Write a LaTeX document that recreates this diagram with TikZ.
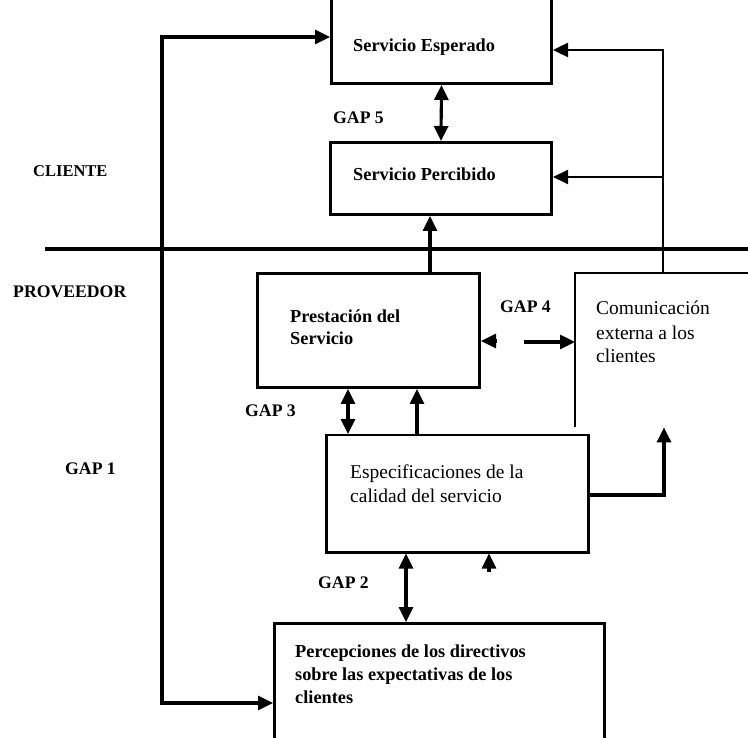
\documentclass[tikz,border=0pt]{standalone}
\usepackage{fontspec}
\setmainfont{Liberation Serif}
\usetikzlibrary{arrows.meta,calc}
\begin{document}
\begin{tikzpicture}[x=1pt,y=-1pt,
  box/.style={draw,line width=3pt,rectangle,inner sep=0pt,anchor=north west},
  openbox/.style={rectangle,inner sep=0pt,anchor=north west},
  conn/.style={line width=3.1pt},
  thin/.style={line width=2pt},
  hd/.style={-{Triangle[length=15pt,width=14pt]}},
  hds/.style={{Triangle[length=15pt,width=14pt]}-{Triangle[length=15pt,width=14pt]}},
  lab/.style={inner sep=0pt,anchor=base west,font=\bfseries\fontsize{17.7}{23}\selectfont},
  btxt/.style={inner sep=0pt,anchor=base west,align=left,font=\bfseries\fontsize{18.3}{23}\selectfont},
  rtxt/.style={inner sep=0pt,anchor=base west,align=left,font=\fontsize{19.5}{24}\selectfont},
]
\useasboundingbox (0,0) rectangle (748,738);
\clip (0,0) rectangle (748,738);
% boxes
\node[box,minimum width=220pt,minimum height=102pt] (esp) at (330,-20) {};
\node[box,minimum width=221pt,minimum height=72pt] (perc) at (329,141) {};
\node[box,minimum width=222pt,minimum height=114pt] (prest) at (256,272) {};
\node[openbox,minimum width=185pt,minimum height=154pt] (com) at (575,273) {};
\draw[thin] (com.south west) -- (com.north west) -- (com.north east);
\node[box,line width=2.5pt,minimum width=262pt,minimum height=117pt] (espec) at (325,434) {};
\node[box,minimum width=330pt,minimum height=140pt] (percep) at (273,622) {};
% texts (anchor = baseline of last line)
\node[btxt] (tesp) at (353,52) {Servicio Esperado};
\node[btxt] (tperc) at (353,181) {Servicio Percibido};
\node[btxt] (tprest) at (290,345) {Prestación del\\Servicio};
\node[rtxt] (tcom) at (596,363) {Comunicación\\externa a los\\clientes};
\node[rtxt] (tespec) at (350,502) {Especificaciones de la\\calidad del servicio};
\node[btxt] (tpercep) at (295,703) {Percepciones de los directivos\\sobre las expectativas de los\\clientes};
% labels
\node[lab,font=\bfseries\fontsize{16.5}{20}\selectfont] (cli) at (33,177) {CLIENTE};
\node[lab] (prov) at (13,298) {PROVEEDOR};
\node[lab] (g1) at (65,475) {GAP 1};
\node[lab] (g2) at (318,588) {GAP 2};
\node[lab] (g3) at (245,417) {GAP 3};
\node[lab] (g4) at (500,313) {GAP 4};
\node[lab] (g5) at (333,124) {GAP 5};
% divider
\coordinate (dl) at (45,249);
\coordinate (dr) at (760,249);
\draw[conn] (dl) -- (dr);
% GAP 1 loop
\coordinate (gA) at (162,37);
\coordinate (gB) at (162,703);
\draw[conn,hds] (esp.west |- gA) -- (gA) -- (gB) -- (percep.west |- gB);
% GAP 5
\draw[conn,hds] (esp.south) -- (perc.north);
% communication feedback
\coordinate (vt) at (663,50);
\coordinate (vm) at (663,177);
\draw[conn,line width=2.4pt,hd] (com.north -| vt) -- (vt) -- (esp.east |- vt);
\draw[conn,line width=2pt,hd] (vm) -- (perc.east |- vm);
% prestacion -> percibido
\coordinate (pp) at (430,0);
\draw[conn,hd] (prest.north -| pp) -- (perc.south -| pp);
% GAP 4
\coordinate (g4a) at (497,341);
\coordinate (g4b) at (524,342);
\draw[conn,hd] (g4a) -- (prest.east |- g4a);
\draw[conn,hd] (g4b) -- (com.west |- g4b);
% GAP 3
\coordinate (g3x) at (348,0);
\coordinate (g3y) at (417,0);
\draw[conn,hds] (prest.south -| g3x) -- (espec.north -| g3x);
\draw[conn,hd] (espec.north -| g3y) -- (prest.south -| g3y);
% especificaciones -> comunicacion
\coordinate (ec) at (664,495);
\draw[conn,hd] (espec.east |- ec) -- (ec) -- (com.south -| ec);
% GAP 2
\coordinate (g2x) at (406,0);
\draw[conn,hds] (espec.south -| g2x) -- (percep.north -| g2x);
% lone arrowhead
\coordinate (la) at (489,572);
\draw[conn,hd] (la) -- (espec.south -| la);
\end{tikzpicture}
\end{document}
